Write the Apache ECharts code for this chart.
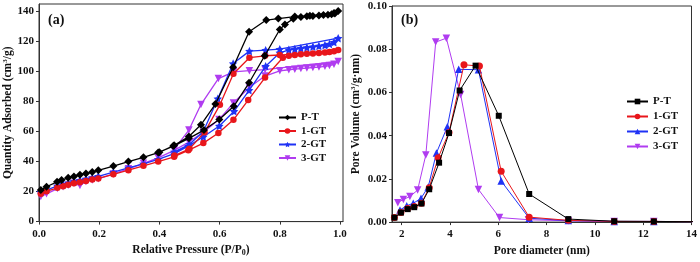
<!DOCTYPE html>
<html><head><meta charset="utf-8">
<script src="https://cdn.jsdelivr.net/npm/echarts@6/dist/echarts.min.js"></script>
<style>html,body{margin:0;padding:0;background:#fff}#c{width:700px;height:262px}</style>
</head><body><div id="c"></div>
<script>
// ---- Panel (a): N2 isotherms, [P/P0, quantity] (adsorption then desorption) ----
const ptIso = [[0.006,21.1],[0.025,23.2],[0.06,26.5],[0.075,27.7],[0.097,29.2],[0.116,30.1],[0.136,31.2],[0.156,32.0],[0.177,33.1],[0.197,34.2],[0.247,37.0],[0.297,40.0],[0.347,42.8],[0.396,46.0],[0.446,50.3],[0.498,55.5],[0.548,61.0],[0.599,68.0],[0.647,76.8],[0.698,92.5],[0.75,110.5],[0.8,128.0],[0.817,131.4],[0.845,135.2],[0.87,136.4],[0.89,136.8],[0.91,137.0],[0.93,137.3],[0.945,137.6],[0.96,137.9],[0.972,138.2],[0.983,138.7],[0.994,140.3],
  [0.98,139.0],[0.9,137.1],[0.85,136.6],[0.795,135.3],[0.755,134.3],[0.698,126.5],[0.645,102.8],[0.586,78.3],[0.538,64.5],[0.498,56.7],[0.449,50.8],[0.4,46.2]];
const gt1Iso = [[0.006,18.5],[0.025,20.2],[0.061,22.5],[0.08,23.5],[0.097,24.6],[0.116,25.5],[0.136,26.2],[0.156,27.0],[0.177,28.0],[0.197,28.8],[0.247,31.5],[0.297,34.3],[0.347,37.2],[0.396,40.0],[0.449,43.2],[0.496,47.5],[0.546,52.3],[0.596,59.0],[0.646,67.8],[0.695,81.0],[0.751,96.0],[0.81,109.2],[0.83,110.5],[0.85,111.0],[0.87,111.5],[0.89,111.8],[0.91,112.0],[0.93,112.3],[0.95,112.7],[0.965,113.0],[0.98,113.5],[0.994,114.3],
  [0.8,111.0],[0.751,110.5],[0.699,109.2],[0.646,98.5],[0.601,77.8],[0.55,59.5],[0.5,48.5],[0.45,44.0]];
const gt2Iso = [[0.006,19.6],[0.025,21.0],[0.061,23.8],[0.08,24.8],[0.097,25.8],[0.116,26.8],[0.136,27.6],[0.156,28.4],[0.177,29.3],[0.197,30.2],[0.247,33.0],[0.297,35.8],[0.347,38.5],[0.396,41.5],[0.449,45.3],[0.496,50.3],[0.546,56.5],[0.599,63.7],[0.648,73.5],[0.698,87.5],[0.753,103.5],[0.8,112.5],[0.83,114.5],[0.85,115.0],[0.87,115.5],[0.89,116.0],[0.91,116.5],[0.93,117.0],[0.95,117.5],[0.965,118.3],[0.98,119.5],[0.994,122.2],
  [0.8,114.9],[0.753,114.2],[0.699,113.6],[0.645,105.3],[0.594,81.9],[0.546,60.0],[0.5,51.5],[0.45,46.5]];
const gt3Iso = [[0.006,16.8],[0.025,18.5],[0.061,22.0],[0.08,23.3],[0.097,24.2],[0.116,25.5],[0.136,24.0],[0.156,26.8],[0.177,27.8],[0.197,28.5],[0.247,31.8],[0.297,35.2],[0.347,38.8],[0.396,42.5],[0.449,47.5],[0.498,53.0],[0.546,59.5],[0.598,68.0],[0.646,79.0],[0.699,89.5],[0.751,97.0],[0.8,100.5],[0.83,101.2],[0.85,101.6],[0.87,102.0],[0.89,102.3],[0.91,102.7],[0.93,103.0],[0.95,103.5],[0.965,104.0],[0.98,104.8],[0.994,106.7],
  [0.751,101.3],[0.699,100.6],[0.646,99.8],[0.596,95.3],[0.538,78.0],[0.498,61.0],[0.45,48.5]];

// ---- Panel (b): pore size distribution, [diameter nm, pore volume] ----
const ptPSD = [[1.70,0.0021],[1.97,0.0044],[2.25,0.0060],[2.52,0.0069],[2.82,0.0086],[3.14,0.0152],[3.55,0.0275],[3.96,0.0412],[4.40,0.0609],[5.06,0.0724],[6.02,0.0492],[7.28,0.0130],[8.90,0.0014],[10.8,0.0004],[12.44,0.0003],[14.3,0.0002]];
const gt1PSD = [[1.70,0.0021],[1.97,0.0044],[2.25,0.0063],[2.52,0.0072],[2.82,0.0087],[3.14,0.0159],[3.51,0.0298],[3.96,0.0415],[4.58,0.0728],[5.22,0.0722],[6.12,0.0235],[7.28,0.0023],[8.90,0.0008],[10.8,0.0003],[12.44,0.0003],[14.3,0.0002]];
const gt2PSD = [[1.93,0.0056],[2.21,0.0076],[2.48,0.0087],[2.80,0.0110],[3.10,0.0163],[3.44,0.0320],[3.89,0.0441],[4.36,0.0707],[5.18,0.0705],[6.12,0.0190],[7.28,0.0018],[8.90,0.0007],[10.8,0.0003],[12.44,0.0003],[14.3,0.0002]];
const gt3PSD = [[1.84,0.0090],[2.07,0.0105],[2.34,0.0118],[2.66,0.0148],[3.00,0.0311],[3.41,0.0833],[3.85,0.0851],[4.44,0.0591],[5.18,0.0151],[6.05,0.0021],[7.25,0.0011],[8.90,0.0006],[10.8,0.0003],[12.44,0.0003],[14.3,0.0002]];

// ---- Ticks / names ----
const ticksAX = [0, 0.2, 0.4, 0.6, 0.8, 1.0];
const ticksAY = [0, 20, 40, 60, 80, 100, 120, 140];
const ticksBX = [2, 4, 6, 8, 10, 12, 14];
const ticksBY = [0, 0.02, 0.04, 0.06, 0.08, 0.10];
const names = ['P-T', '1-GT', '2-GT', '3-GT'];

const FONT = 'Liberation Serif';
const COLORS = ['#000000', '#e8161b', '#1f32f5', '#b03cf0'];
const STAR = 'path://M0,-10L2.9,-4L9.5,-3.1L4.8,1.5L5.9,8.1L0,5L-5.9,8.1L-4.8,1.5L-9.5,-3.1L-2.9,-4Z';
const txt = {fontFamily: FONT, fontWeight: 'bold', fontSize: 11, color: '#111'};
const nameTxt = {fontFamily: FONT, fontWeight: 'bold', fontSize: 11.5, color: '#111'};
const rich = {
  sup: {fontFamily: FONT, fontWeight: 'bold', fontSize: 7, color: '#111', verticalAlign: 'top', padding: [0, 0, 4, 0]},
  sub: {fontFamily: FONT, fontWeight: 'bold', fontSize: 8, color: '#111', verticalAlign: 'bottom', padding: [5, 0, 0, 0]}
};

function axisCommon(ticks, fmt, margin) {
  return {
    axisLine: {show: true, onZero: false, lineStyle: {color: '#333', width: 1}},
    axisTick: {show: true, inside: false, length: 3, customValues: ticks, lineStyle: {color: '#333'}},
    axisLabel: Object.assign({customValues: ticks, margin: margin, formatter: fmt}, txt),
    splitLine: {show: false},
    nameTextStyle: Object.assign({rich: rich}, nameTxt)
  };
}

const aSyms = [
  {symbol: 'diamond', symbolSize: 8, rot: 0},
  {symbol: 'circle', symbolSize: 6.5, rot: 0},
  {symbol: STAR, symbolSize: 8.5, rot: 0},
  {symbol: 'triangle', symbolSize: 7.5, rot: 180}
];
const bSyms = [
  {symbol: 'rect', symbolSize: 6, rot: 0},
  {symbol: 'circle', symbolSize: 7, rot: 0},
  {symbol: 'triangle', symbolSize: 7.5, rot: 0},
  {symbol: 'triangle', symbolSize: 7.5, rot: 180}
];
const isoData = [ptIso, gt1Iso, gt2Iso, gt3Iso];
const psdData = [ptPSD, gt1PSD, gt2PSD, gt3PSD];

const series = [];
names.forEach((n, i) => {
  series.push({
    name: n, type: 'line', xAxisIndex: 0, yAxisIndex: 0, data: isoData[i],
    symbol: aSyms[i].symbol, symbolSize: aSyms[i].symbolSize, symbolRotate: aSyms[i].rot,
    showAllSymbol: true, animation: false, z: 10 - i,
    lineStyle: {color: COLORS[i], width: 1.3}, itemStyle: {color: COLORS[i], borderWidth: 0}
  });
});
names.forEach((n, i) => {
  series.push({
    name: n + ' (b)', type: 'line', xAxisIndex: 1, yAxisIndex: 1, data: psdData[i],
    symbol: bSyms[i].symbol, symbolSize: bSyms[i].symbolSize, symbolRotate: bSyms[i].rot,
    showAllSymbol: true, animation: false, z: 10 - i,
    lineStyle: {color: COLORS[i], width: 1}, itemStyle: {color: COLORS[i], borderWidth: 0}
  });
});

const chart = echarts.init(document.getElementById('c'), null, {renderer: 'canvas'});
chart.setOption({
  backgroundColor: '#fff',
  animation: false,
  title: [
    {text: '(a)', left: 43, top: 8, textStyle: {fontFamily: FONT, fontWeight: 'bold', fontSize: 14, color: '#111'}},
    {text: '(b)', left: 396, top: 8, textStyle: {fontFamily: FONT, fontWeight: 'bold', fontSize: 14, color: '#111'}}
  ],
  grid: [
    {left: 39, top: 4, width: 304, height: 225, show: true, borderColor: '#333', borderWidth: 1, containLabel: false},
    {left: 392, top: 6, width: 301, height: 220, show: true, borderColor: '#333', borderWidth: 1, containLabel: false}
  ],
  xAxis: [
    Object.assign(axisCommon(ticksAX, v => v.toFixed(1), 7), {
      type: 'value', gridIndex: 0, min: 0, max: 1.01,
      name: 'Relative Pressure (P/P{sub|0})', nameLocation: 'middle', nameGap: 19
    }),
    Object.assign(axisCommon(ticksBX, v => String(v), 7), {
      type: 'value', gridIndex: 1, min: 1.6, max: 14,
      name: 'Pore diameter (nm)', nameLocation: 'middle', nameGap: 21
    })
  ],
  yAxis: [
    Object.assign(axisCommon(ticksAY, v => String(v), 5), {
      type: 'value', gridIndex: 0, min: 0, max: 145,
      name: 'Quantity Adsorbed (cm{sup|3}/g)', nameLocation: 'middle', nameGap: 24
    }),
    Object.assign(axisCommon(ticksBY, v => v.toFixed(2), 5), {
      type: 'value', gridIndex: 1, min: 0, max: 0.1,
      name: 'Pore Volume (cm{sup|3}/g·nm)', nameLocation: 'middle', nameGap: 30
    })
  ],
  legend: [
    {data: names, orient: 'vertical', left: 273, top: 107, itemWidth: 17, itemHeight: 7, itemGap: 2.5,
     selectedMode: false, textStyle: txt},
    {data: names.map(n => n + ' (b)'), orient: 'vertical', left: 621, top: 91, itemWidth: 21, itemHeight: 7, itemGap: 4,
     selectedMode: false, textStyle: txt, formatter: n => n.replace(' (b)', '')}
  ],
  series: series
});
</script></body></html>
